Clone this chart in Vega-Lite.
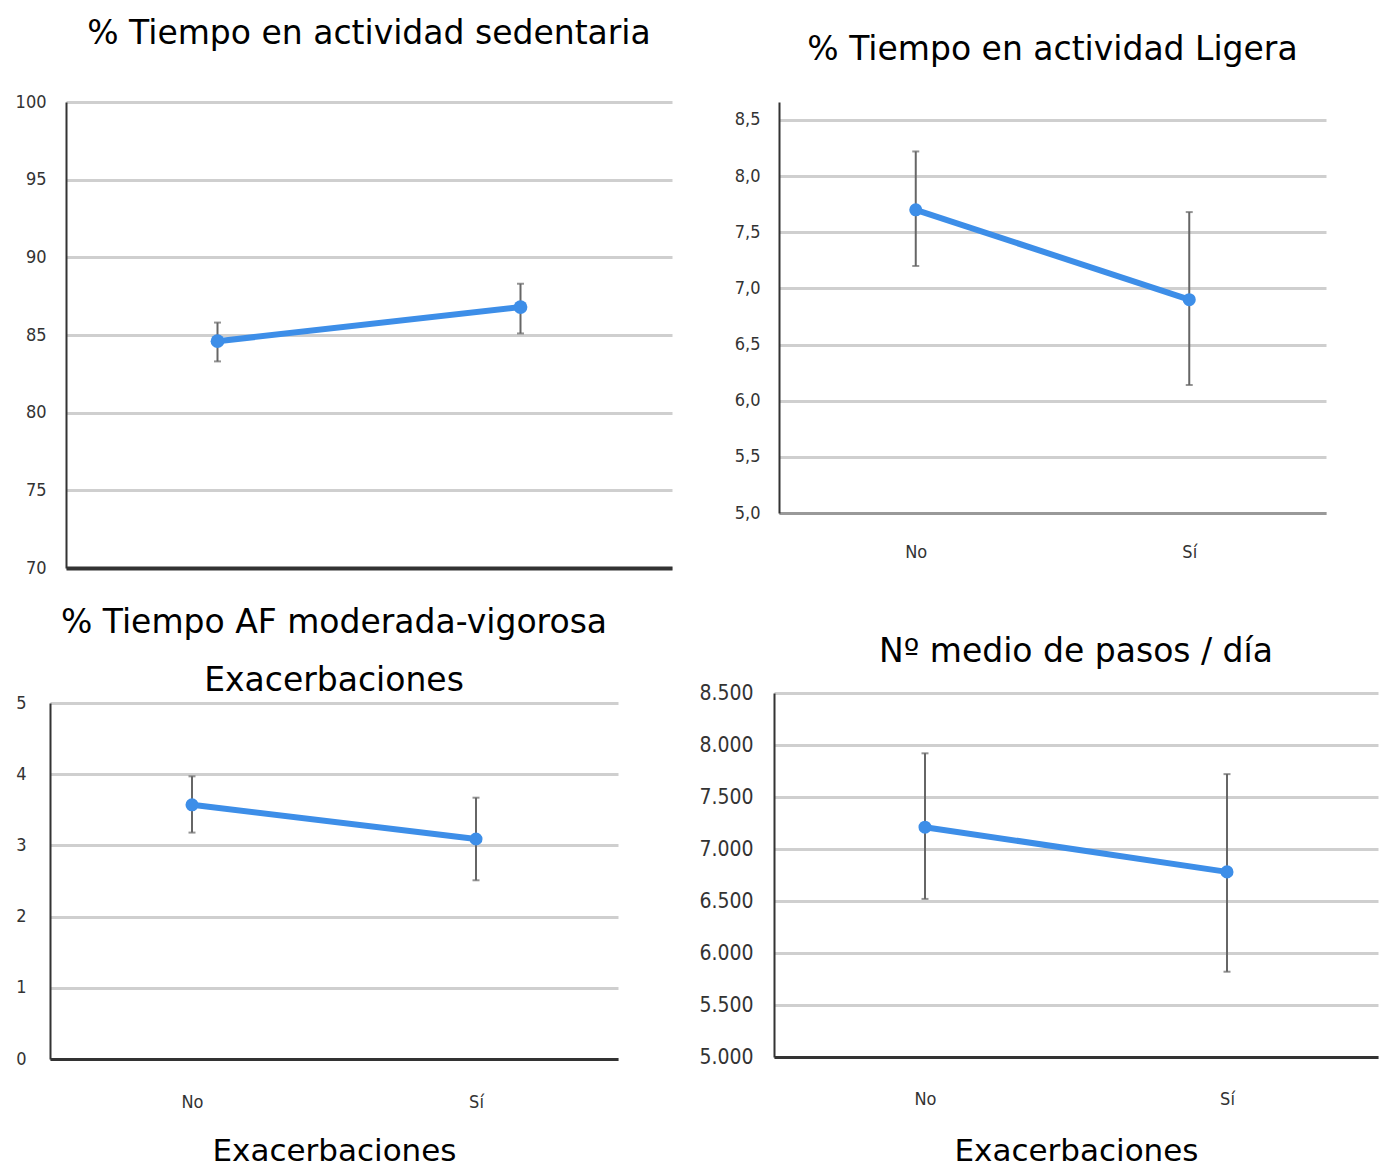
{
  "$schema": "https://vega.github.io/schema/vega-lite/v6.json",
  "background": "white",
  "padding": {"left": -28, "top": 18, "right": 2, "bottom": 0},
  "config": {
    "view": {"stroke": null},
    "axis": {"ticks": false, "labelFont": "DejaVu Sans Condensed", "labelColor": "#333", "labelFontSize": 18, "gridColor": "#cfcfcf", "gridWidth": 3, "domainColor": "#333", "domainWidth": 2},
    "title": {"font": "DejaVu Sans", "fontSize": 33, "fontWeight": "normal", "color": "#000"}
  },
  "data": {"values": [
    {"panel": "sed", "grupo": "No", "media": 84.6, "inf": 83.3, "sup": 85.8},
    {"panel": "sed", "grupo": "Sí", "media": 86.8, "inf": 85.1, "sup": 88.3},
    {"panel": "lig", "grupo": "No", "media": 7.70, "inf": 7.20, "sup": 8.22},
    {"panel": "lig", "grupo": "Sí", "media": 6.90, "inf": 6.14, "sup": 7.68},
    {"panel": "mvpa", "grupo": "No", "media": 3.57, "inf": 3.18, "sup": 3.97},
    {"panel": "mvpa", "grupo": "Sí", "media": 3.09, "inf": 2.51, "sup": 3.67},
    {"panel": "pasos", "grupo": "No", "media": 7210, "inf": 6520, "sup": 7920},
    {"panel": "pasos", "grupo": "Sí", "media": 6780, "inf": 5820, "sup": 7720}
  ]},
  "columns": 3,
  "align": "none",
  "spacing": {"row": 30, "column": 42},
  "concat": [
    {"width": 1, "height": 1, "data": {"values": []}, "mark": {"type": "point", "opacity": 0}, "encoding": {}},
    {
      "width": 606, "height": 466,
      "title": {"text": "% Tiempo en actividad sedentaria", "offset": 42},
      "transform": [{"filter": "datum.panel == 'sed'"}],
      "encoding": {"x": {"field": "grupo", "type": "nominal", "sort": ["No", "Sí"], "scale": {"type": "point", "padding": 0.5}, "axis": {"title": null, "labels": false, "grid": false, "domainWidth": 4, "domainColor": "#333"}}},
      "layer": [
        {"mark": {"type": "rule", "color": "#666", "strokeWidth": 2}, "encoding": {"y": {"field": "inf", "type": "quantitative", "scale": {"domain": [70, 100], "nice": false, "zero": false}, "axis": {"title": null, "values": [70, 75, 80, 85, 90, 95, 100], "labelPadding": 20}}, "y2": {"field": "sup"}}},
        {"mark": {"type": "tick", "color": "#666", "size": 7, "thickness": 2}, "encoding": {"y": {"field": "inf", "type": "quantitative", "scale": {"domain": [70, 100], "nice": false, "zero": false}, "axis": {"title": null, "values": [70, 75, 80, 85, 90, 95, 100], "labelPadding": 20}}}},
        {"mark": {"type": "tick", "color": "#666", "size": 7, "thickness": 2}, "encoding": {"y": {"field": "sup", "type": "quantitative", "scale": {"domain": [70, 100], "nice": false, "zero": false}, "axis": {"title": null, "values": [70, 75, 80, 85, 90, 95, 100], "labelPadding": 20}}}},
        {"mark": {"type": "line", "color": "#3d8ee8", "strokeWidth": 6}, "encoding": {"y": {"field": "media", "type": "quantitative", "scale": {"domain": [70, 100], "nice": false, "zero": false}, "axis": {"title": null, "values": [70, 75, 80, 85, 90, 95, 100], "labelPadding": 20}}}},
        {"mark": {"type": "point", "filled": true, "color": "#3d8ee8", "size": 190, "opacity": 1}, "encoding": {"y": {"field": "media", "type": "quantitative", "scale": {"domain": [70, 100], "nice": false, "zero": false}, "axis": {"title": null, "values": [70, 75, 80, 85, 90, 95, 100], "labelPadding": 20}}}}
      ]
    },
    {
      "width": 547, "height": 411,
      "title": {"text": "% Tiempo en actividad Ligera", "offset": 35},
      "transform": [{"filter": "datum.panel == 'lig'"}],
      "encoding": {"x": {"field": "grupo", "type": "nominal", "sort": ["No", "Sí"], "scale": {"type": "point", "padding": 0.5}, "axis": {"title": null, "labelAngle": 0, "grid": false, "labelPadding": 30, "domainWidth": 3, "domainColor": "#999"}}},
      "layer": [
        {"mark": {"type": "rule", "color": "#666", "strokeWidth": 2}, "encoding": {"y": {"field": "inf", "type": "quantitative", "scale": {"domain": [5, 8.6603], "nice": false, "zero": false}, "axis": {"title": " ", "titleFontSize": 20, "titlePadding": 0, "values": [5, 5.5, 6, 6.5, 7, 7.5, 8, 8.5], "labelExpr": "replace(format(datum.value, '.1f'), '.', ',')", "labelPadding": 19}}, "y2": {"field": "sup"}}},
        {"mark": {"type": "tick", "color": "#666", "size": 7, "thickness": 2}, "encoding": {"y": {"field": "inf", "type": "quantitative", "scale": {"domain": [5, 8.6603], "nice": false, "zero": false}, "axis": {"title": " ", "titleFontSize": 20, "titlePadding": 0, "values": [5, 5.5, 6, 6.5, 7, 7.5, 8, 8.5], "labelExpr": "replace(format(datum.value, '.1f'), '.', ',')", "labelPadding": 19}}}},
        {"mark": {"type": "tick", "color": "#666", "size": 7, "thickness": 2}, "encoding": {"y": {"field": "sup", "type": "quantitative", "scale": {"domain": [5, 8.6603], "nice": false, "zero": false}, "axis": {"title": " ", "titleFontSize": 20, "titlePadding": 0, "values": [5, 5.5, 6, 6.5, 7, 7.5, 8, 8.5], "labelExpr": "replace(format(datum.value, '.1f'), '.', ',')", "labelPadding": 19}}}},
        {"mark": {"type": "line", "color": "#3d8ee8", "strokeWidth": 6}, "encoding": {"y": {"field": "media", "type": "quantitative", "scale": {"domain": [5, 8.6603], "nice": false, "zero": false}, "axis": {"title": " ", "titleFontSize": 20, "titlePadding": 0, "values": [5, 5.5, 6, 6.5, 7, 7.5, 8, 8.5], "labelExpr": "replace(format(datum.value, '.1f'), '.', ',')", "labelPadding": 19}}}},
        {"mark": {"type": "point", "filled": true, "color": "#3d8ee8", "size": 170, "opacity": 1}, "encoding": {"y": {"field": "media", "type": "quantitative", "scale": {"domain": [5, 8.6603], "nice": false, "zero": false}, "axis": {"title": " ", "titleFontSize": 20, "titlePadding": 0, "values": [5, 5.5, 6, 6.5, 7, 7.5, 8, 8.5], "labelExpr": "replace(format(datum.value, '.1f'), '.', ',')", "labelPadding": 19}}}}
      ]
    },
    {"width": 1, "height": 1, "data": {"values": []}, "mark": {"type": "point", "opacity": 0}, "encoding": {}},
    {
      "width": 568, "height": 356,
      "title": {"text": ["% Tiempo AF moderada-vigorosa", "Exacerbaciones"], "lineHeight": 58, "offset": -4},
      "transform": [{"filter": "datum.panel == 'mvpa'"}],
      "encoding": {"x": {"field": "grupo", "type": "nominal", "sort": ["No", "Sí"], "scale": {"type": "point", "padding": 0.5}, "axis": {"title": "Exacerbaciones", "labelAngle": 0, "grid": false, "labelPadding": 34, "domainWidth": 3, "titleFont": "DejaVu Sans", "titleFontSize": 31, "titleFontWeight": "normal", "titleColor": "#000", "titlePadding": 25}}},
      "layer": [
        {"mark": {"type": "rule", "color": "#666", "strokeWidth": 2}, "encoding": {"y": {"field": "inf", "type": "quantitative", "scale": {"domain": [0, 5], "nice": false}, "axis": {"title": null, "values": [0, 1, 2, 3, 4, 5], "labelPadding": 24}}, "y2": {"field": "sup"}}},
        {"mark": {"type": "tick", "color": "#666", "size": 7, "thickness": 2}, "encoding": {"y": {"field": "inf", "type": "quantitative", "scale": {"domain": [0, 5], "nice": false}, "axis": {"title": null, "values": [0, 1, 2, 3, 4, 5], "labelPadding": 24}}}},
        {"mark": {"type": "tick", "color": "#666", "size": 7, "thickness": 2}, "encoding": {"y": {"field": "sup", "type": "quantitative", "scale": {"domain": [0, 5], "nice": false}, "axis": {"title": null, "values": [0, 1, 2, 3, 4, 5], "labelPadding": 24}}}},
        {"mark": {"type": "line", "color": "#3d8ee8", "strokeWidth": 6}, "encoding": {"y": {"field": "media", "type": "quantitative", "scale": {"domain": [0, 5], "nice": false}, "axis": {"title": null, "values": [0, 1, 2, 3, 4, 5], "labelPadding": 24}}}},
        {"mark": {"type": "point", "filled": true, "color": "#3d8ee8", "size": 170, "opacity": 1}, "encoding": {"y": {"field": "media", "type": "quantitative", "scale": {"domain": [0, 5], "nice": false}, "axis": {"title": null, "values": [0, 1, 2, 3, 4, 5], "labelPadding": 24}}}}
      ]
    },
    {
      "width": 604, "height": 364,
      "title": {"text": ["", "Nº medio de pasos / día"], "lineHeight": 29, "offset": 13},
      "transform": [{"filter": "datum.panel == 'pasos'"}],
      "encoding": {"x": {"field": "grupo", "type": "nominal", "sort": ["No", "Sí"], "scale": {"type": "point", "padding": 0.5}, "axis": {"title": "Exacerbaciones", "labelAngle": 0, "grid": false, "labelPadding": 33, "domainWidth": 3, "titleFont": "DejaVu Sans", "titleFontSize": 31, "titleFontWeight": "normal", "titleColor": "#000", "titlePadding": 28}}},
      "layer": [
        {"mark": {"type": "rule", "color": "#666", "strokeWidth": 2}, "encoding": {"y": {"field": "inf", "type": "quantitative", "scale": {"domain": [5000, 8500], "nice": false, "zero": false}, "axis": {"title": null, "values": [5000, 5500, 6000, 6500, 7000, 7500, 8000, 8500], "labelExpr": "replace(format(datum.value, ',.0f'), ',', '.')", "labelPadding": 21, "labelFontSize": 21}}, "y2": {"field": "sup"}}},
        {"mark": {"type": "tick", "color": "#666", "size": 7, "thickness": 2}, "encoding": {"y": {"field": "inf", "type": "quantitative", "scale": {"domain": [5000, 8500], "nice": false, "zero": false}, "axis": {"title": null, "values": [5000, 5500, 6000, 6500, 7000, 7500, 8000, 8500], "labelExpr": "replace(format(datum.value, ',.0f'), ',', '.')", "labelPadding": 21, "labelFontSize": 21}}}},
        {"mark": {"type": "tick", "color": "#666", "size": 7, "thickness": 2}, "encoding": {"y": {"field": "sup", "type": "quantitative", "scale": {"domain": [5000, 8500], "nice": false, "zero": false}, "axis": {"title": null, "values": [5000, 5500, 6000, 6500, 7000, 7500, 8000, 8500], "labelExpr": "replace(format(datum.value, ',.0f'), ',', '.')", "labelPadding": 21, "labelFontSize": 21}}}},
        {"mark": {"type": "line", "color": "#3d8ee8", "strokeWidth": 6}, "encoding": {"y": {"field": "media", "type": "quantitative", "scale": {"domain": [5000, 8500], "nice": false, "zero": false}, "axis": {"title": null, "values": [5000, 5500, 6000, 6500, 7000, 7500, 8000, 8500], "labelExpr": "replace(format(datum.value, ',.0f'), ',', '.')", "labelPadding": 21, "labelFontSize": 21}}}},
        {"mark": {"type": "point", "filled": true, "color": "#3d8ee8", "size": 170, "opacity": 1}, "encoding": {"y": {"field": "media", "type": "quantitative", "scale": {"domain": [5000, 8500], "nice": false, "zero": false}, "axis": {"title": null, "values": [5000, 5500, 6000, 6500, 7000, 7500, 8000, 8500], "labelExpr": "replace(format(datum.value, ',.0f'), ',', '.')", "labelPadding": 21, "labelFontSize": 21}}}}
      ]
    }
  ]
}
